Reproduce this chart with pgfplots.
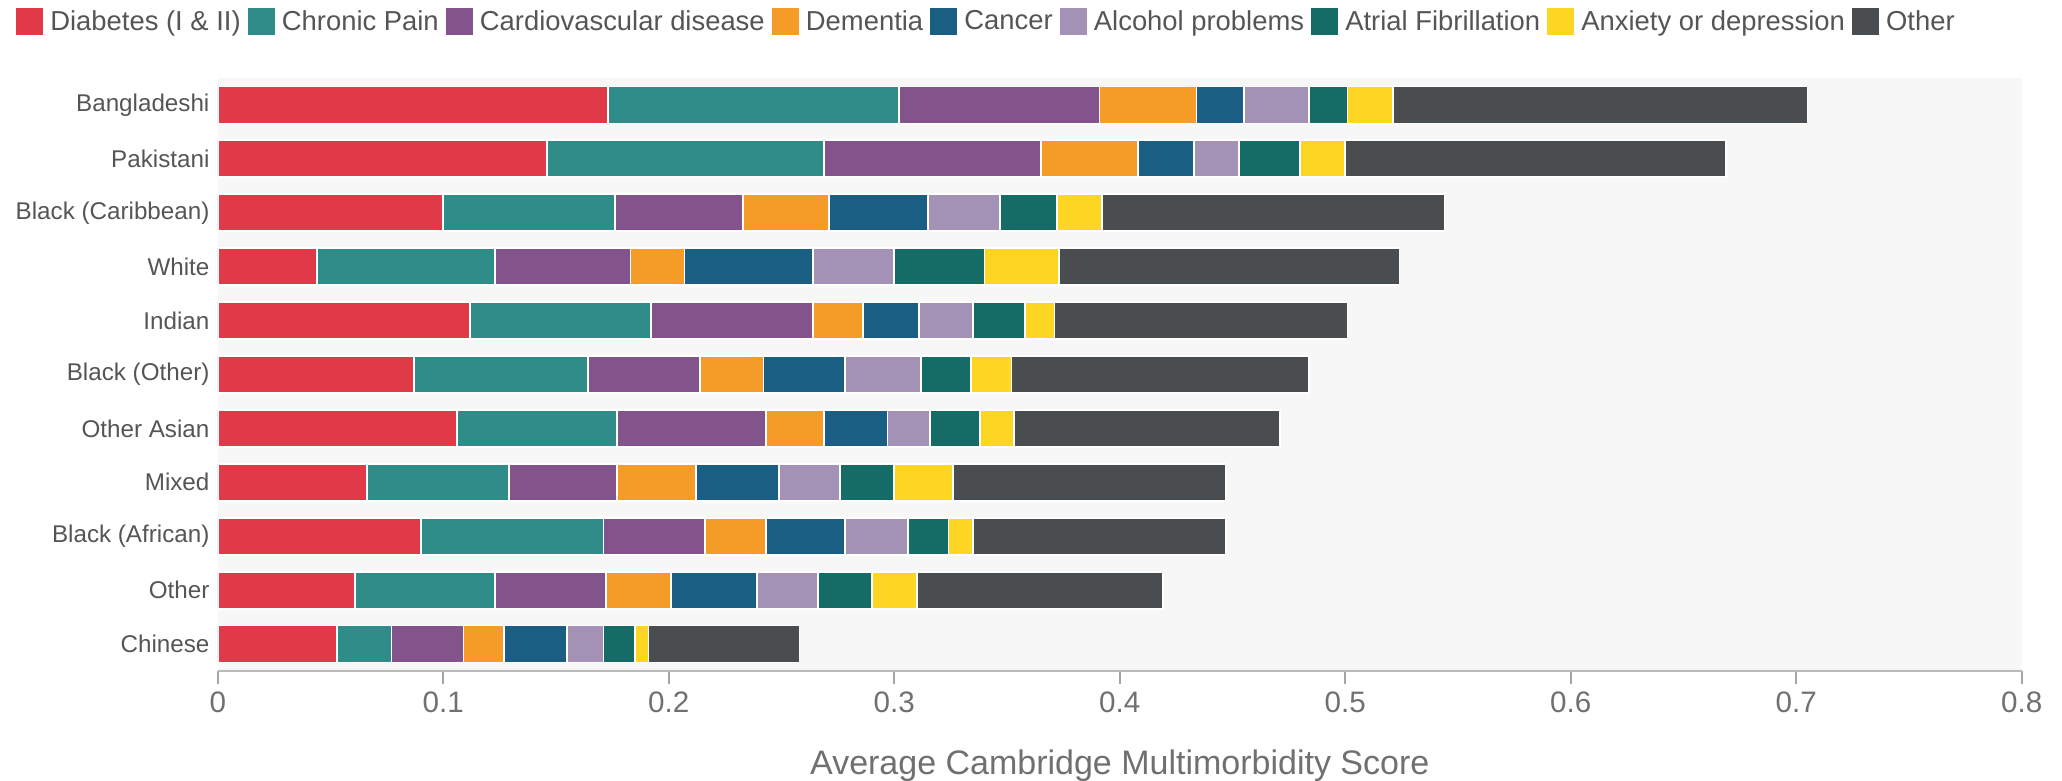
\documentclass[border=0pt]{standalone}
\usepackage{fontspec}
\setmainfont{Liberation Sans}
\usepackage{pgfplots}
\usepackage{pgfplotstable}
\pgfplotsset{compat=1.18}

\definecolor{cDiab}{HTML}{E03A48}
\definecolor{cPain}{HTML}{308C89}
\definecolor{cCvd}{HTML}{83548B}
\definecolor{cDem}{HTML}{F59C28}
\definecolor{cCan}{HTML}{1A5E84}
\definecolor{cAlc}{HTML}{A492B6}
\definecolor{cAf}{HTML}{156B66}
\definecolor{cAnx}{HTML}{FDD523}
\definecolor{cOth}{HTML}{4A4D50}
\definecolor{bgGray}{HTML}{F7F7F7}
\definecolor{txtGray}{HTML}{555555}
\definecolor{tickGray}{HTML}{707070}

% idx: 10 = Bangladeshi (top) ... 0 = Chinese (bottom)
\pgfplotstableread{
idx diab  chronic cvd   dem   cancer alc   af    anx   other
10  0.173 0.129   0.089 0.043 0.021  0.029 0.017 0.020 0.184
9   0.146 0.123   0.096 0.043 0.025  0.020 0.027 0.020 0.169
8   0.100 0.076   0.057 0.038 0.044  0.032 0.025 0.020 0.152
7   0.044 0.079   0.060 0.024 0.057  0.036 0.040 0.033 0.151
6   0.112 0.080   0.072 0.022 0.025  0.024 0.023 0.013 0.130
5   0.087 0.077   0.050 0.028 0.036  0.034 0.022 0.018 0.132
4   0.106 0.071   0.066 0.026 0.028  0.019 0.022 0.015 0.118
3   0.066 0.063   0.048 0.035 0.037  0.027 0.024 0.026 0.121
2   0.090 0.081   0.045 0.027 0.035  0.028 0.018 0.011 0.112
1   0.061 0.062   0.049 0.029 0.038  0.027 0.024 0.020 0.109
0   0.053 0.024   0.032 0.018 0.028  0.016 0.014 0.006 0.067
}\datatable

\pgfplotsset{
  sq legend/.style={legend image code/.code={\path[##1,draw=none] (0pt,-6.75pt) rectangle (13.5pt,6.75pt);}},
  seg/.style={fill=#1, draw=white, line width=0.9pt, sq legend},
}

\begin{document}
\begin{tikzpicture}
\path[use as bounding box] (0pt,0pt) rectangle (1031pt,390.5pt);
\begin{axis}[
  at={(108.9pt,55pt)}, anchor=south west,
  scale only axis, width=902pt, height=296.5pt,
  xbar stacked, bar width=18.5pt,
  xmin=0, xmax=0.8, ymin=-0.5, ymax=10.5,
  axis background/.style={fill=bgGray},
  ytick={0,1,2,3,4,5,6,7,8,9,10},
  yticklabels={Chinese,Other,Black (African),Mixed,Other Asian,Black (Other),Indian,White,Black (Caribbean),Pakistani,Bangladeshi},
  minor ytick={0.5,1.5,2.5,3.5,4.5,5.5,6.5,7.5,8.5,9.5},
  yminorgrids, minor grid style={draw=black!4, line width=0.5pt},
  ytick style={draw=none},
  minor tick length=0pt,
  xtick={0,0.1,0.2,0.3,0.4,0.5,0.6,0.7,0.8},
  /pgf/number format/assume math mode=true,
  axis x line*=bottom, axis y line*=left,
  x axis line style={draw=black!27, line width=1pt, -},
  y axis line style={draw=none},
  xtick style={draw=black!35, line width=0.8pt},
  tick align=outside, major tick length=6.5pt,
  xticklabel style={font=\fontsize{14.8}{17}\selectfont, text=tickGray, inner sep=0pt, anchor=north, yshift=-3.5pt},
  yticklabel style={font=\fontsize{12.1}{14}\selectfont, text=txtGray, inner sep=0pt, anchor=east, xshift=2.5pt},
  xlabel={Average Cambridge Multimorbidity Score},
  x label style={at={(axis description cs:0.5,0)}, anchor=base, yshift=-52pt, font=\fontsize{17}{19}\selectfont, text=tickGray},
  legend columns=-1,
  legend style={at={(-0.1120,1.0949)}, anchor=west, draw=none, fill=none, inner sep=0pt,
    font=\fontsize{13.7}{15}\selectfont, text=txtGray,
    nodes={inner xsep=0pt, inner ysep=1pt},
    /tikz/every odd column/.style={column sep=3.6pt},
    /tikz/every even column/.style={column sep=3.5pt}},
]
\addplot[seg=cDiab] table[x=diab, y=idx] {\datatable};
\addlegendentry{Diabetes (I \& II)}
\addplot[seg=cPain] table[x=chronic, y=idx] {\datatable};
\addlegendentry{Chronic Pain}
\addplot[seg=cCvd] table[x=cvd, y=idx] {\datatable};
\addlegendentry{Cardiovascular disease}
\addplot[seg=cDem] table[x=dem, y=idx] {\datatable};
\addlegendentry{Dementia}
\addplot[seg=cCan] table[x=cancer, y=idx] {\datatable};
\addlegendentry{Cancer}
\addplot[seg=cAlc] table[x=alc, y=idx] {\datatable};
\addlegendentry{Alcohol problems}
\addplot[seg=cAf] table[x=af, y=idx] {\datatable};
\addlegendentry{Atrial Fibrillation}
\addplot[seg=cAnx] table[x=anx, y=idx] {\datatable};
\addlegendentry{Anxiety or depression}
\addplot[seg=cOth] table[x=other, y=idx] {\datatable};
\addlegendentry{Other}
\end{axis}
\end{tikzpicture}
\end{document}
